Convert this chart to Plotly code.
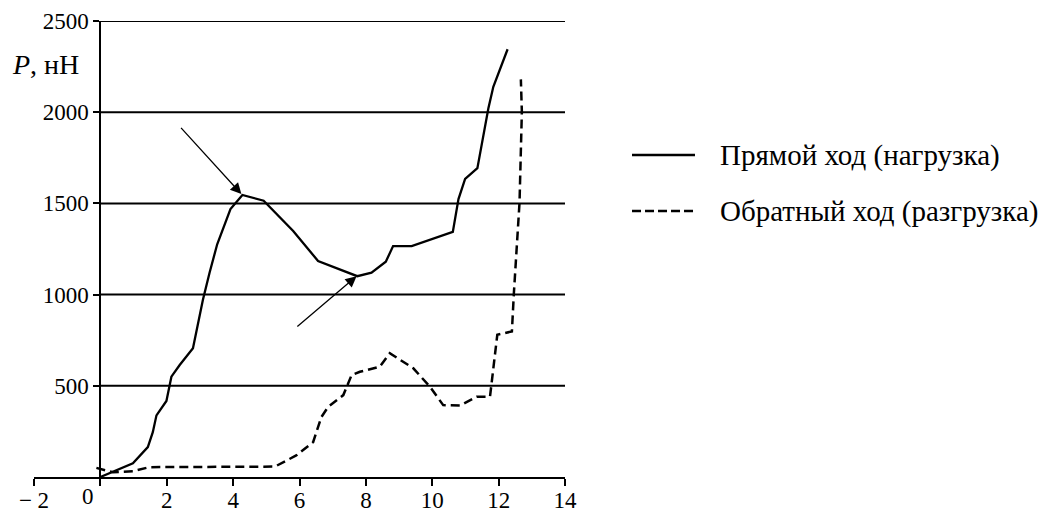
import plotly.graph_objects as go

# --- data ---
load_u = [0, 0.98, 1.43, 1.58, 1.69, 1.99, 2.14, 2.39, 2.79, 3.09, 3.29, 3.52, 3.92, 4.10,
          4.28, 4.92, 5.81, 6.56, 7.74, 8.17, 8.60, 8.82, 9.38, 10.62, 10.79, 10.99, 11.36,
          11.69, 11.84, 12.27]
load_P = [0, 75, 164, 246, 338, 417, 550, 614, 706, 972, 1120, 1276, 1469, 1509,
          1546, 1515, 1349, 1184, 1101, 1120, 1180, 1266, 1266, 1344, 1524, 1634, 1693,
          2020, 2139, 2345]

unload_u = [-0.12, 0.38, 0.98, 1.48, 5.26, 5.90, 6.41, 6.66, 6.86, 7.32, 7.57, 7.82, 8.42,
            8.72, 9.43, 9.93, 10.33, 10.84, 11.34, 11.74, 11.96, 12.40, 12.46, 12.63, 12.70,
            12.67]
unload_P = [50, 26, 32, 54, 57, 118, 191, 329, 384, 449, 559, 577, 605,
            679, 596, 495, 394, 392, 440, 440, 780, 798, 1009, 1505, 2002,
            2180]

x_ticks = [-2, 0, 2, 4, 6, 8, 10, 12, 14]
x_ticktext = ["\u2212 2", "", "2", "4", "6", "8", "10", "12", "14"]
y_ticks = [500, 1000, 1500, 2000, 2500]

series_names = ["Прямой ход (нагрузка)", "Обратный ход (разгрузка)"]
series_dash = ["solid", "9px,4px"]

# arrows: (tail_u, tail_P, head_u, head_P)
arrows = [(2.39, 1922, 4.25, 1551), (5.89, 818, 7.72, 1101)]

FONT = "Liberation Serif, Times New Roman, DejaVu Serif, serif"
TICK_FS = 23
LEG_FS = 29

fig = go.Figure()
fig.add_trace(go.Scatter(x=load_u, y=load_P, mode="lines", name=series_names[0],
                         line=dict(color="black", width=2.3, dash=series_dash[0]),
                         showlegend=False))
fig.add_trace(go.Scatter(x=unload_u, y=unload_P, mode="lines", name=series_names[1],
                         line=dict(color="black", width=2.5, dash="9px,5px"),
                         showlegend=False))

shapes = []
for yv in y_ticks:
    shapes.append(dict(type="line", xref="x", yref="y", x0=0, x1=14, y0=yv, y1=yv,
                       line=dict(color="black", width=2), layer="below"))

annotations = []
for (tu, tp, hu, hp) in arrows:
    annotations.append(dict(x=hu, y=hp, ax=tu, ay=tp, xref="x", yref="y", axref="x", ayref="y",
                            text="", showarrow=True, arrowhead=2, arrowsize=1.7,
                            arrowwidth=1.3, arrowcolor="black", standoff=0))
annotations.append(dict(x=-1.65, y=2260, xref="x", yref="y", text="<i>P</i>, нН",
                        showarrow=False, font=dict(family=FONT, size=28, color="black"),
                        xanchor="center", yanchor="middle"))
annotations.append(dict(x=14.39, y=47, xref="x", yref="y", text="<i>u</i>, нм",
                        showarrow=False, font=dict(family=FONT, size=24, color="black"),
                        xanchor="left", yanchor="middle"))
annotations.append(dict(x=0, y=0, xref="x", yref="y", text="0", xshift=-12, yshift=-19,
                        showarrow=False, font=dict(family=FONT, size=TICK_FS, color="black"),
                        xanchor="center", yanchor="middle"))

# manual legend (sample line + text), positioned in paper coordinates
leg_y = [0.7061, 0.5833]
for name, dash, ly in zip(series_names, series_dash, leg_y):
    shapes.append(dict(type="line", xref="paper", yref="paper", x0=1.1262, x1=1.2448,
                       y0=ly, y1=ly, line=dict(color="black", width=2.5, dash=dash)))
    annotations.append(dict(x=1.2881, y=ly, xref="paper", yref="paper", text=name,
                            showarrow=False, xanchor="left", yanchor="middle",
                            font=dict(family=FONT, size=LEG_FS, color="black")))

fig.update_layout(
    width=1043, height=512,
    margin=dict(l=34, r=478, t=21, b=35),
    paper_bgcolor="white", plot_bgcolor="white",
    font=dict(family=FONT, size=TICK_FS, color="black"),
    showlegend=False,
    xaxis=dict(range=[-2, 14], tickvals=x_ticks, ticktext=x_ticktext, showgrid=False,
               zeroline=False, showline=True, linecolor="black", linewidth=2,
               ticks="outside", ticklen=7, tickwidth=2, tickcolor="black",
               ticklabelstandoff=-6, automargin=False,
               tickfont=dict(family=FONT, size=TICK_FS)),
    yaxis=dict(range=[0, 2500], tickvals=y_ticks, showgrid=False, zeroline=False,
               anchor="free", position=0.125, showline=True, linecolor="black", linewidth=2,
               ticks="outside", ticklen=6, tickwidth=2, tickcolor="black", automargin=False,
               tickfont=dict(family=FONT, size=TICK_FS)),
    shapes=shapes,
    annotations=annotations,
)

fig.write_html("out.html")
